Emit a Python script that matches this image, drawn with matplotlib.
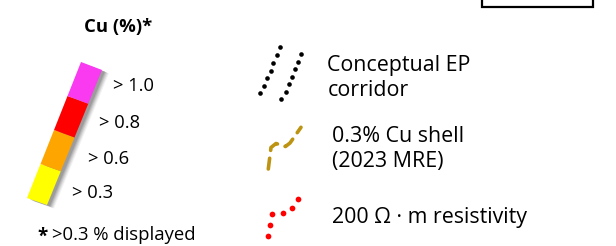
import numpy as np
import matplotlib
matplotlib.use('Agg')
import matplotlib.pyplot as plt
from matplotlib.patches import Polygon, Rectangle

plt.rcParams['font.family'] = ['Open Sans', 'DejaVu Sans']

# grade classes of the Cu bar (bottom to top)
cu_labels = ['> 0.3', '> 0.6', '> 0.8', '> 1.0']
cu_colors = ['#FFFF00', '#FFA500', '#FF0000', '#F93AF0']

# slanted bar corners (pixel coords, y down): bottom-left, bottom-right, top-right, top-left
bar_bl = (27, 198)
bar_br = (47, 205)
bar_tr = (102, 70)
bar_tl = (81, 62)

# symbols
ep_dots_1_x = [260, 264, 267.3, 270.7, 273.3, 276.7, 280]
ep_dots_1_y = [92.7, 85.7, 78.3, 70.7, 62.7, 55, 47.3]
ep_dots_2_x = [281.3, 285.7, 289, 292, 295, 298.3, 301]
ep_dots_2_y = [99.3, 91.7, 84.3, 76.7, 69, 61.7, 54]
shell_x = [268.3, 271, 276, 285.5, 290, 301]
shell_y = [169, 147.5, 143.5, 146.5, 143, 127.3]
res_x = [268.3, 270, 272.3, 282.7, 291.7, 298.3]
res_y = [235.7, 225, 214.3, 213.3, 208.3, 199.3]

fig = plt.figure(figsize=(6.16, 2.46), dpi=100)
ax = fig.add_axes([0, 0, 1, 1])
ax.set_xlim(0, 616)
ax.set_ylim(246, 0)
ax.axis('off')

# box cut at the top edge
ax.add_patch(Rectangle((482, -10), 111, 16.8, fill=False, ec='black', lw=1.6))

# title
ax.text(118.5, 27, 'Cu (%)*', fontsize=13.3, fontweight='bold', ha='center', va='center')

# soft shadow of the bar
bl, br, tr, tl = [np.array(p, float) for p in (bar_bl, bar_br, bar_tr, bar_tl)]
for k, a in zip([7, 6, 5, 4, 3], [0.05, 0.07, 0.09, 0.11, 0.13]):
    off = np.array([k, k * 0.5])
    ax.add_patch(Polygon([bl + off, br + off, tr + off, tl + off], closed=True,
                         fc='black', ec='none', alpha=a))

# coloured segments
n = len(cu_colors)
for i, c in enumerate(cu_colors):
    f0, f1 = i / n, (i + 1) / n
    pts = [bl + (tl - bl) * f0, br + (tr - br) * f0, br + (tr - br) * f1, bl + (tl - bl) * f1]
    ax.add_patch(Polygon(pts, closed=True, fc=c, ec='none'))

label_x = [72.3, 88.3, 99, 113.3]
label_y = [193.3, 159.3, 123.3, 86]
for s, x, y in zip(cu_labels, label_x, label_y):
    ax.text(x, y, s, fontsize=13.2, ha='left', va='center')

ax.text(37.7, 236.5, '*', fontsize=13.5, fontweight='bold', ha='left', va='center')
ax.text(52.5, 235.5, '>0.3 % displayed', fontsize=13.3, ha='left', va='center')

# conceptual EP corridor
ax.scatter(ep_dots_1_x, ep_dots_1_y, s=11, c='black', lw=0)
ax.scatter(ep_dots_2_x, ep_dots_2_y, s=11, c='black', lw=0)
ax.text(327.3, 71.5, 'Conceptual EP', fontsize=15.4, ha='left', va='baseline')
ax.text(327.3, 96.5, 'corridor', fontsize=15.4, ha='left', va='baseline')

# 0.3% Cu shell
ax.plot(shell_x, shell_y, color='#BC9412', lw=2.6, dashes=(3, 2.2),
        solid_capstyle='round', dash_capstyle='round')
ax.text(331.7, 141.7, '0.3% Cu shell', fontsize=15.4, ha='left', va='baseline')
ax.text(331.7, 167.5, '(2023 MRE)', fontsize=15.4, ha='left', va='baseline')

# resistivity
ax.scatter(res_x, res_y, s=17, c='#FF0000', lw=0)
ax.text(331.7, 223.3, '200 Ω · m resistivity', fontsize=15.4, ha='left', va='baseline')

fig.savefig('out.png', dpi=100)
